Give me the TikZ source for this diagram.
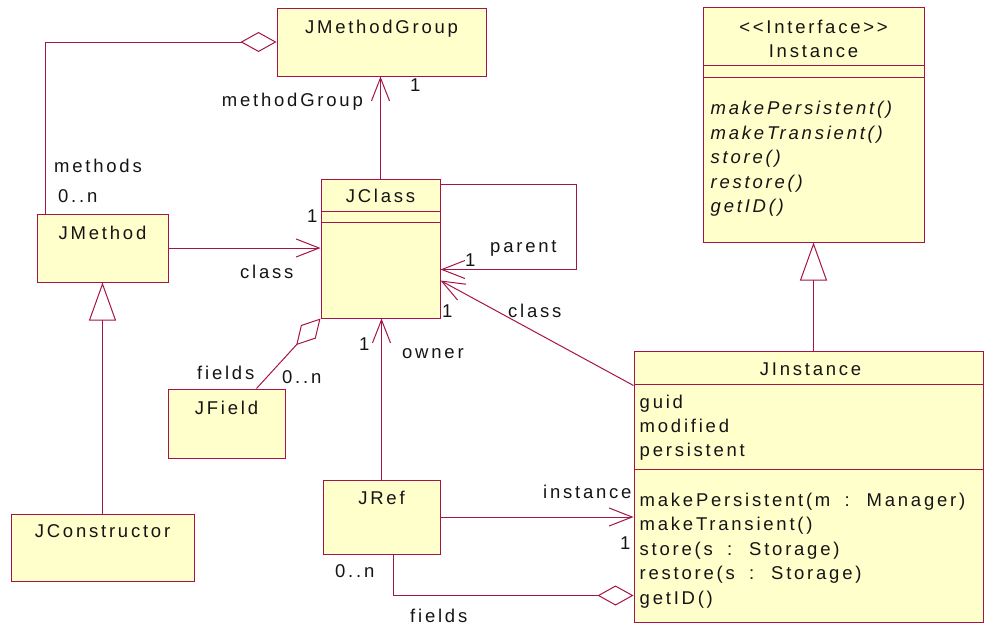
\documentclass[tikz,border=0pt]{standalone}
\usepackage{fontspec}
\newfontfamily\umlfont[LetterSpace=15,WordSpace=1.8]{Liberation Sans}
\usetikzlibrary{arrows.meta,calc}
\definecolor{umlline}{RGB}{165,20,72}
\definecolor{umlfill}{RGB}{255,255,204}
\definecolor{umltext}{RGB}{20,20,20}
\begin{document}
\begin{tikzpicture}[x=1pt,y=-1pt,
  box/.style={draw=umlline, fill=umlfill, line width=1pt, rectangle, inner sep=0pt},
  umltxt/.style={inner sep=0pt, text=umltext, font=\umlfont\fontsize{18.5}{24}\selectfont},
  title/.style={umltxt, anchor=base},
  member/.style={umltxt, anchor=base west},
  lbl/.style={umltxt, anchor=base west},
  link/.style={draw=umlline, line width=1pt},
  nav/.style={link, -{Straight Barb[length=23pt,width=18pt]}},
  agg/.style={link, -{Diamond[open,length=36pt,width=20pt]}},
  gen/.style={link, -{Triangle[open,length=38pt,width=27pt]}},
]
\useasboundingbox (0,0) rectangle (984,625);

% ---- classes ----
\node[box, minimum width=209, minimum height=68]  (jmg)     at (381.5,42)  {};
\node[box, minimum width=221, minimum height=235] (iface)   at (813.5,124.5) {};
\node[box, minimum width=349, minimum height=271] (jinst)   at (808.5,486.5) {};
\node[box, minimum width=119, minimum height=139] (jclass)  at (380.5,248.5) {};
\node[box, minimum width=131, minimum height=68]  (jmethod) at (102.5,248) {};
\node[box, minimum width=117, minimum height=69]  (jfield)  at (226.5,423.5) {};
\node[box, minimum width=183, minimum height=67]  (jcons)   at (102.5,547.5) {};
\node[box, minimum width=117, minimum height=74]  (jref)    at (381.5,517) {};

% compartment separators
\draw[link] ($(jclass.north west)+(0,33)$) -- ($(jclass.north east)+(0,33)$);
\draw[link] ($(jclass.north west)+(0,44)$) -- ($(jclass.north east)+(0,44)$);
\draw[link] ($(iface.north west)+(0,59)$) -- ($(iface.north east)+(0,59)$);
\draw[link] ($(iface.north west)+(0,71)$) -- ($(iface.north east)+(0,71)$);
\draw[link] ($(jinst.north west)+(0,34)$) -- ($(jinst.north east)+(0,34)$);
\draw[link] ($(jinst.north west)+(0,119)$) -- ($(jinst.north east)+(0,119)$);

% ---- class names ----
\node[title] (jmgT)     at ($(jmg.north)+(0,26)$) {JMethodGroup};
\node[title] (ifaceS)   at ($(iface.north)+(0,27)$) {<<Interface>>};
\node[title] (ifaceT)   at ($(iface.north)+(0,51)$) {Instance};
\node[title] (jinstT)   at ($(jinst.north)+(2,25)$) {JInstance};
\node[title] (jclassT)  at ($(jclass.north)+(0,24)$) {JClass};
\node[title] (jmethodT) at ($(jmethod.north)+(0,26)$) {JMethod};
\node[title] (jfieldT)  at ($(jfield.north)+(0,26)$) {JField};
\node[title] (jconsT)   at ($(jcons.north)+(0,24)$) {JConstructor};
\node[title] (jrefT)    at ($(jref.north)+(0,25)$) {JRef};

% ---- members ----
\foreach \m [count=\i] in {{makePersistent()},{makeTransient()},{store()},{restore()},{getID()}}
  \node[member, font=\umlfont\itshape\fontsize{18.5}{24}\selectfont] (ifaceM\i)
    at ($(iface.north west)+(8,{108+24.5*(\i-1)})$) {\m};
\foreach \a [count=\i] in {guid,modified,persistent}
  \node[member] (jinstA\i) at ($(jinst.north west)+(6,{58+24*(\i-1)})$) {\a};
\foreach \m [count=\i] in {{makePersistent(m : Manager)},{makeTransient()},{store(s : Storage)},{restore(s : Storage)},{getID()}}
  \node[member] (jinstM\i) at ($(jinst.north west)+(6,{156+24.4*(\i-1)})$) {\m};

% ---- connectors ----
\draw[agg] ($(jmethod.north west)+(9,0)$) |- (jmg.west);
\draw[nav] (jclass.north) -- (jclass.north |- jmg.south);
\draw[nav] (jmethod.east) -- (jmethod.east -| jclass.west);
\coordinate (loopA) at ($(jclass.north east)+(0,6)$);
\coordinate (loopB) at ($(jclass.north east)+(0,91)$);
\draw[nav] (loopA) -- ++(136,0) |- (loopB);
\draw[nav] ($(jinst.north west)+(0,35)$) -- ($(jclass.north east)+(0,102)$);
\draw[agg] ($(jfield.north west)+(89,0)$) -- (jclass.south west);
\draw[nav] (jref.north) -- (jref.north |- jclass.south);
\draw[nav] (jref.east) -- (jref.east -| jinst.west);
\coordinate (refAgg) at ($(jinst.south west)+(0,-27)$);
\draw[agg] ($(jref.south west)+(71,0)$) |- (refAgg);
\draw[gen] (iface.south |- jinst.north) -- (iface.south);
\draw[gen] (jcons.north) -- (jmethod.south);

% ---- role names and multiplicities ----
\node[umltxt, anchor=base east] (lMG) at (363,106) {methodGroup};
\node[lbl] (mMG)  at (410,91)  {1};
\node[lbl] (lMe)  at (54,172)  {methods};
\node[lbl] (mMe)  at (58,202)  {0..n};
\node[lbl] (mCl)  at (307,222) {1};
\node[lbl] (lCl)  at (240,278) {class};
\node[lbl] (lPa)  at (490,252) {parent};
\node[lbl] (mPa)  at (465,266) {1};
\node[lbl] (mCi)  at (442,317) {1};
\node[lbl] (lCi)  at (508,317) {class};
\node[lbl] (mOw)  at (359,350) {1};
\node[lbl] (lOw)  at (402,358) {owner};
\node[lbl] (lFi)  at (197,379) {fields};
\node[lbl] (mFi)  at (282,383) {0..n};
\node[lbl] (lIn)  at (543,498) {instance};
\node[lbl] (mIn)  at (620,549) {1};
\node[lbl] (mRf)  at (335,577) {0..n};
\node[lbl] (lRf)  at (410,622) {fields};
\end{tikzpicture}
\end{document}
